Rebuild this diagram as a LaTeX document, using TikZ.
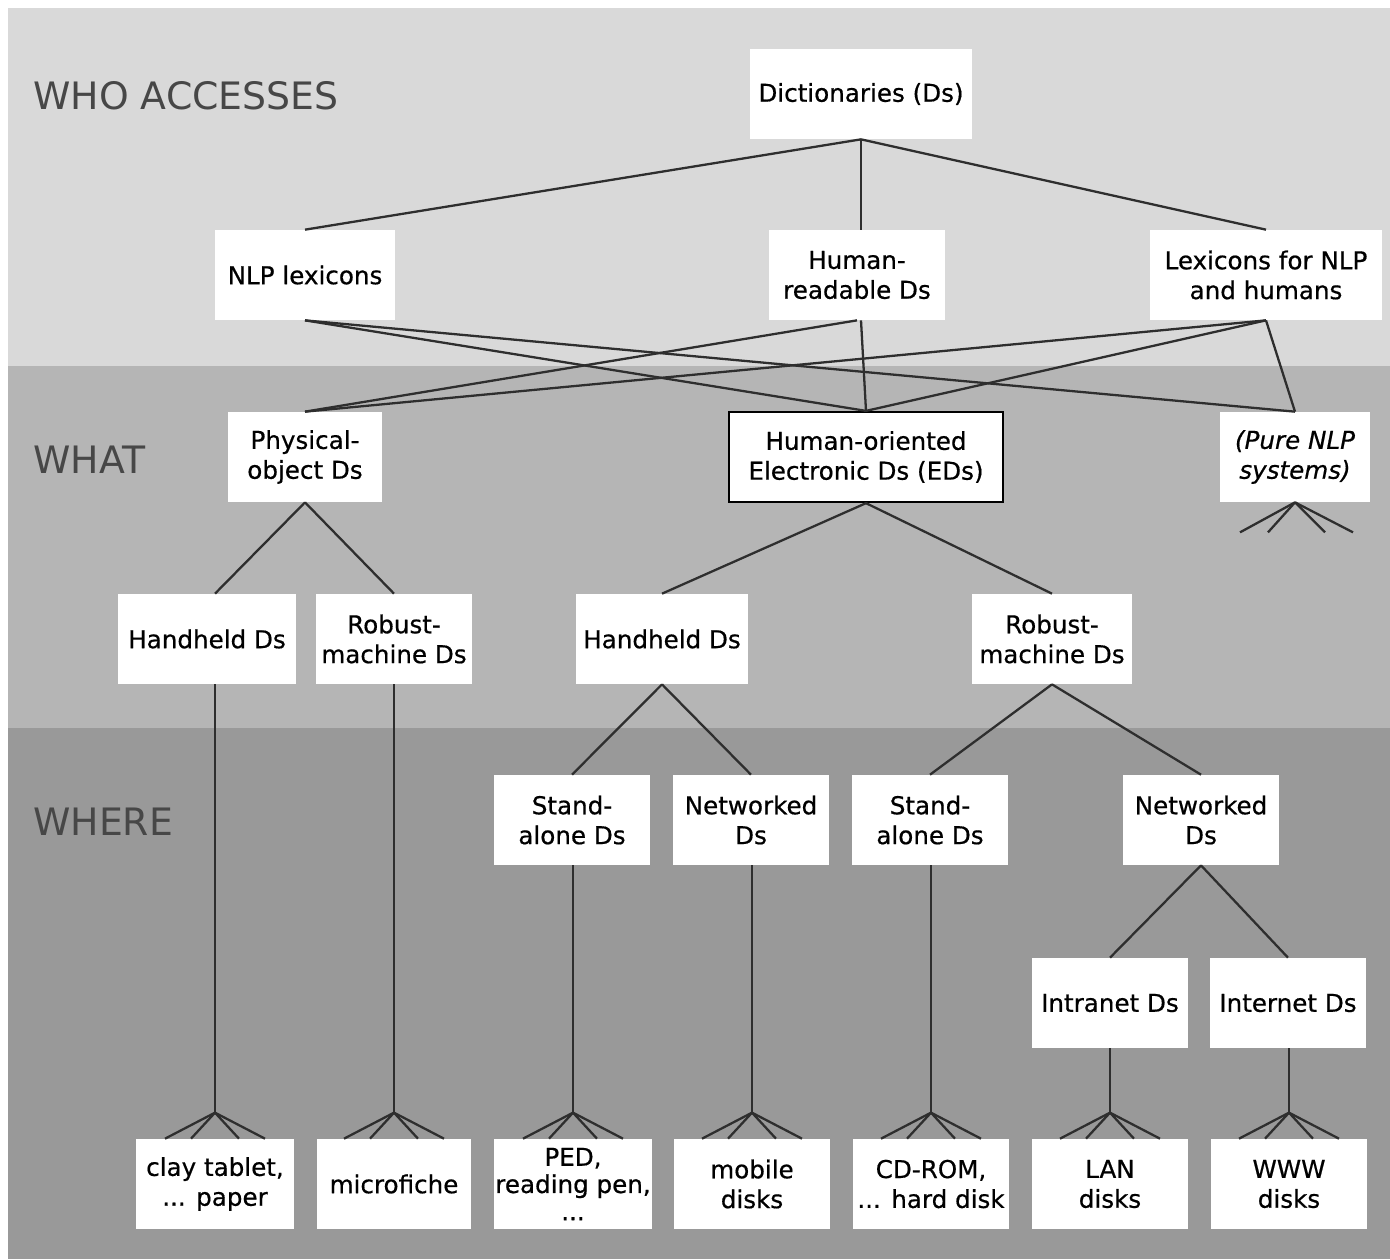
\documentclass[tikz,border=0pt]{standalone}
\usepackage{fontspec}
\setmainfont{DejaVu Sans}
\newfontfamily\boxfont{DejaVu Sans}[FakeBold=0.6]
\definecolor{bandtop}{gray}{0.85}
\definecolor{bandmid}{gray}{0.71}
\definecolor{bandlow}{gray}{0.60}
\begin{document}
\begin{tikzpicture}[x=0.02cm,y=-0.02cm,
    box/.style={fill=white,align=center,minimum height=1.8cm,inner sep=1pt,font=\boxfont\fontsize{14}{17}\selectfont},
    bandlabel/.style={anchor=west,inner sep=0pt,text=black!72,font=\fontsize{21.5}{25}\selectfont},
    link/.style={draw=black!82,line width=1.3pt}]
    \useasboundingbox (0,0) rectangle (1390,1259);
    \fill[white] (0,0) rectangle (1390,1259);
    \fill[bandtop] (8,8) rectangle (1390,366);
    \fill[bandmid] (8,366) rectangle (1390,728);
    \fill[bandlow] (8,728) rectangle (1390,1259);

    \node[bandlabel] (who) at (33,96) {WHO ACCESSES};
    \node[bandlabel] (what) at (33,460) {WHAT};
    \node[bandlabel] (where) at (33,822) {WHERE};

    % who accesses
    \node[box,minimum width=4.46cm] (dict) at (861,94) {Dictionaries (Ds)};
    \node[box,minimum width=3.6cm] (nlp) at (305,275) {NLP lexicons};
    \node[box,minimum width=3.52cm] (hread) at (857,275) {Human-\\readable Ds};
    \node[box,minimum width=4.64cm] (lexb) at (1266,275) {Lexicons for NLP\\and humans};

    % what
    \node[box,minimum width=3.1cm] (phys) at (305,457) {Physical-\\object Ds};
    \node[box,minimum width=5.48cm,draw=black,line width=1.3pt] (eds) at (866,457) {Human-oriented\\Electronic Ds (EDs)};
    \node[box,minimum width=3.02cm,font=\boxfont\fontsize{14}{17}\selectfont\itshape] (pure) at (1295,457) {(Pure NLP\\systems)};
    \node[box,minimum width=3.56cm] (hh1) at (207,639) {Handheld Ds};
    \node[box,minimum width=3.12cm] (rm1) at (394,639) {Robust-\\machine Ds};
    \node[box,minimum width=3.44cm] (hh2) at (662,639) {Handheld Ds};
    \node[box,minimum width=3.22cm] (rm2) at (1052,639) {Robust-\\machine Ds};

    % where
    \node[box,minimum width=3.14cm] (sa1) at (572,820) {Stand-\\alone Ds};
    \node[box,minimum width=3.12cm] (nw1) at (751,820) {Networked\\Ds};
    \node[box,minimum width=3.14cm] (sa2) at (930,820) {Stand-\\alone Ds};
    \node[box,minimum width=3.12cm] (nw2) at (1201,820) {Networked\\Ds};
    \node[box,minimum width=3.12cm] (intra) at (1110,1003) {Intranet Ds};
    \node[box,minimum width=3.12cm] (inter) at (1288,1003) {Internet Ds};

    \node[box,minimum width=3.16cm] (clay) at (215,1184) {clay tablet,\\... paper};
    \node[box,minimum width=3.1cm] (micro) at (394,1184) {microfiche};
    \node[box,minimum width=3.12cm,font=\boxfont\fontsize{14}{15.5}\selectfont] (ped) at (573,1184) {PED,\\reading pen,\\...};
    \node[box,minimum width=3.12cm] (mobile) at (752,1184) {mobile\\disks};
    \node[box,minimum width=3.14cm] (cdrom) at (931,1184) {CD-ROM,\\... hard disk};
    \node[box,minimum width=3.14cm] (lan) at (1110,1184) {LAN\\disks};
    \node[box,minimum width=3.12cm] (www) at (1289,1184) {WWW\\disks};

    % fans above the media
    \foreach \n in {clay,micro,ped,mobile,cdrom,lan,www}{
        \coordinate (\n-top) at ([yshift=0.52cm]\n.north);
        \foreach \dx in {-50,-24,24,50}
            \draw[link] (\n-top) -- ([xshift=\dx*0.02cm]\n.north);
    }
    \coordinate (pure-low) at ([yshift=-0.6cm]pure.south);
    \foreach \dx in {-55,-27,30,58}
        \draw[link] (pure.south) -- ([xshift=\dx*0.02cm]pure-low);

    % who accesses -> what
    \draw[link] (dict.south) -- (nlp.north);
    \draw[link] (dict.south) -- (dict.south |- hread.north);
    \draw[link] (dict.south) -- (lexb.north);
    \draw[link] (nlp.south) -- (eds.north);
    \draw[link] (nlp.south) -- (pure.north);
    \draw[link] (hread.south -| dict.south) -- (eds.north);
    \draw[link] (hread.south) -- (phys.north);
    \draw[link] (lexb.south) -- (phys.north);
    \draw[link] (lexb.south) -- (eds.north);
    \draw[link] (lexb.south) -- (pure.north);

    % what -> where
    \draw[link] (phys.south) -- (hh1.north -| clay-top);
    \draw[link] (phys.south) -- (rm1.north);
    \draw[link] (eds.south) -- (hh2.north);
    \draw[link] (eds.south) -- (rm2.north);
    \draw[link] (hh2.south) -- (sa1.north);
    \draw[link] (hh2.south) -- (nw1.north);
    \draw[link] (rm2.south) -- (sa2.north);
    \draw[link] (rm2.south) -- (nw2.north);
    \draw[link] (nw2.south) -- (intra.north);
    \draw[link] (nw2.south) -- (inter.north);

    % down to the media
    \draw[link] (hh1.south -| clay-top) -- (clay-top);
    \draw[link] (rm1.south -| micro-top) -- (micro-top);
    \draw[link] (sa1.south -| ped-top) -- (ped-top);
    \draw[link] (nw1.south -| mobile-top) -- (mobile-top);
    \draw[link] (sa2.south -| cdrom-top) -- (cdrom-top);
    \draw[link] (intra.south -| lan-top) -- (lan-top);
    \draw[link] (inter.south -| www-top) -- (www-top);
\end{tikzpicture}
\end{document}
